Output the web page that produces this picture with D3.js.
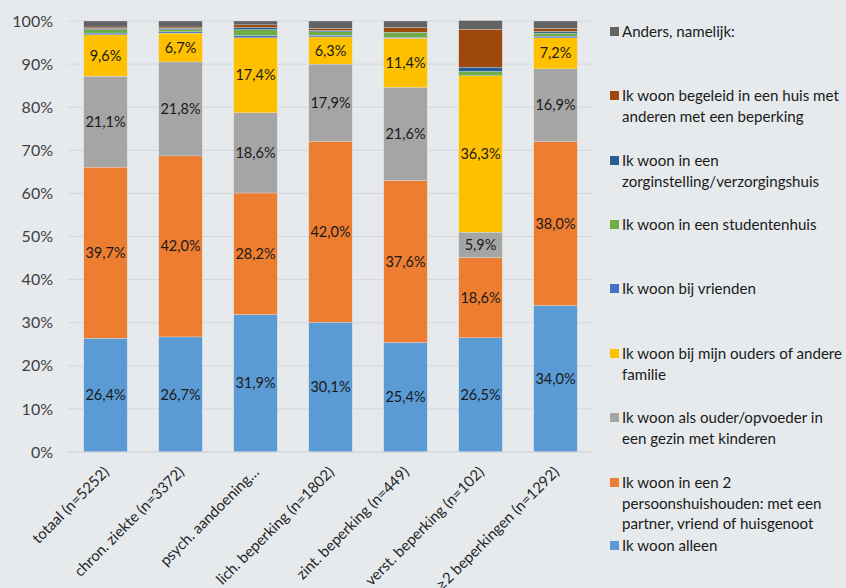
<!DOCTYPE html>
<html><head><meta charset="utf-8">
<script src="https://cdn.jsdelivr.net/npm/d3@7"></script>
<style>
html,body{margin:0;padding:0;background:#E7EAED;}
svg{display:block;font-family:Lato,"Open Sans",sans-serif;}
</style></head><body>
<svg id="c" width="846" height="588"></svg>
<script>
const categories = ["totaal (n=5252)","chron. ziekte (n=3372)","psych. aandoening…","lich. beperking (n=1802)","zint. beperking (n=449)","verst. beperking (n=102)","≥2 beperkingen (n=1292)"];
const seriesNames = [
  "Ik woon alleen",
  "Ik woon in een 2 persoonshuishouden: met een partner, vriend of huisgenoot",
  "Ik woon als ouder/opvoeder in een gezin met kinderen",
  "Ik woon bij mijn ouders of andere familie",
  "Ik woon bij vrienden",
  "Ik woon in een studentenhuis",
  "Ik woon in een zorginstelling/verzorgingshuis",
  "Ik woon begeleid in een huis met anderen met een beperking",
  "Anders, namelijk:"
];
const legendLines = [
  ["Ik woon alleen"],
  ["Ik woon in een 2","persoonshuishouden: met een","partner, vriend of huisgenoot"],
  ["Ik woon als ouder/opvoeder in","een gezin met kinderen"],
  ["Ik woon bij mijn ouders of andere","familie"],
  ["Ik woon bij vrienden"],
  ["Ik woon in een studentenhuis"],
  ["Ik woon in een","zorginstelling/verzorgingshuis"],
  ["Ik woon begeleid in een huis met","anderen met een beperking"],
  ["Anders, namelijk:"]
];
const alleen       = [26.4, 26.7, 31.9, 30.1, 25.4, 26.5, 34.0];
const tweePersoons = [39.7, 42.0, 28.2, 42.0, 37.6, 18.6, 38.0];
const ouderGezin   = [21.1, 21.8, 18.6, 17.9, 21.6, 5.9, 16.9];
const bijOuders    = [9.6, 6.7, 17.4, 6.3, 11.4, 36.3, 7.2];
const vrienden     = [0.4, 0.3, 0.5, 0.4, 0.2, 0.0, 0.4];
const studenten    = [0.8, 0.5, 1.4, 0.8, 1.1, 1.0, 0.7];
const zorg         = [0.3, 0.3, 0.5, 0.3, 0.1, 1.0, 0.4];
const begeleid     = [0.3, 0.3, 0.6, 0.5, 1.1, 8.8, 0.7];
const anders       = [1.4, 1.4, 0.9, 1.7, 1.5, 2.0, 1.7];
const yTicks = [0,10,20,30,40,50,60,70,80,90,100];
const colors = ["#5B9BD5","#ED7D31","#A5A5A5","#FFC000","#4472C4","#70AD47","#255E91","#9E480E","#636363"];
const seriesValues = [alleen, tweePersoons, ouderGezin, bijOuders, vrienden, studenten, zorg, begeleid, anders];
const labeled = [true,true,true,true,false,false,false,false,false];

const svg = d3.select("#c");
const x = d3.scaleBand().domain(categories).range([68,593]).paddingInner(0.42).paddingOuter(0.21);
const y = d3.scaleLinear().domain([0,100]).range([452,21]);

const rows = categories.map((c,i)=>{const o={cat:c}; seriesNames.forEach((s,j)=>o[s]=seriesValues[j][i]); return o;});
const stacked = d3.stack().keys(seriesNames)(rows);

// gridlines
svg.append("g").selectAll("line").data(yTicks).join("line")
  .attr("x1",68).attr("x2",593).attr("y1",d=>y(d)).attr("y2",d=>y(d))
  .attr("stroke","#D4D7DA").attr("stroke-width",1);

// y axis labels
const yAxis = d3.axisLeft(y).tickValues(yTicks).tickFormat(d=>d+"%").tickSize(0).tickPadding(0);
const ya = svg.append("g").attr("transform","translate(53,0)").call(yAxis);
ya.select(".domain").remove();
ya.selectAll("text").attr("font-size",16).attr("fill","#404040").attr("font-family","Lato, sans-serif");

// bars
const g = svg.append("g");
stacked.forEach((layer,j)=>{
  g.append("g").selectAll("rect").data(layer).join("rect")
    .attr("x",d=>x(d.data.cat)).attr("width",x.bandwidth())
    .attr("y",d=>y(d[1])).attr("height",d=>Math.max(0,y(d[0])-y(d[1])))
    .attr("fill",colors[j]).attr("stroke","#E7EAED").attr("stroke-width",0.3);
});
// data labels
stacked.forEach((layer,j)=>{
  if(!labeled[j]) return;
  g.append("g").selectAll("text").data(layer).join("text")
    .attr("x",d=>x(d.data.cat)+x.bandwidth()/2)
    .attr("y",d=>y((d[0]+d[1])/2))
    .attr("dy","0.35em").attr("text-anchor","middle")
    .attr("font-size",14.5).attr("fill","#1a1a1a")
    .text(d=>(d[1]-d[0]).toFixed(1).replace(".",",")+"%");
});

// baseline
svg.append("line").attr("x1",68).attr("x2",593).attr("y1",y(0)).attr("y2",y(0)).attr("stroke","#D4D7DA");

// x labels
const xAxis = d3.axisBottom(x).tickSize(0).tickPadding(0);
const xa = svg.append("g").attr("transform","translate(0,452)").call(xAxis);
xa.select(".domain").remove();
xa.selectAll("text").attr("font-size",15).attr("fill","#262626").attr("font-family","Lato, sans-serif")
  .attr("text-anchor","end").attr("transform","translate(4.5,21) rotate(-45)").attr("dy",0).attr("y",0);

// legend
const legendY = [546, 483, 418, 354, 289, 225, 161, 96, 32];
const lg = svg.append("g");
seriesNames.forEach((s,j)=>{
  const it = lg.append("g").attr("transform",`translate(0,${legendY[j]})`);
  it.append("rect").attr("x",610).attr("y",-5).attr("width",9).attr("height",9).attr("fill",colors[j]);
  legendLines[j].forEach((ln,k)=>{
    it.append("text").attr("x",622).attr("y",k*20.5).attr("dy","0.35em")
      .attr("font-size",15.1).attr("fill","#1a1a1a").text(ln);
  });
});
</script>
</body></html>
